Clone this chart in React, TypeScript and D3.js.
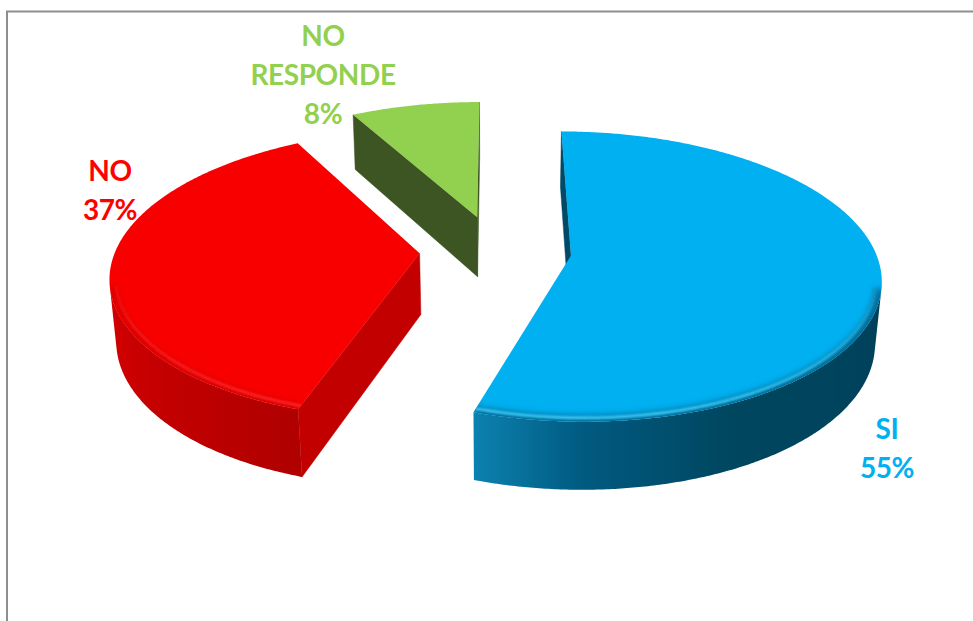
import React from "react";
import * as d3 from "d3";

// ---- data ----
const categories = ["SI", "NO", "NO RESPONDE"];
const values = [55, 37, 8];
const labelLines = [["SI"], ["NO"], ["NO", "RESPONDE"]];

// ---- styles ----
const topColors = ["#00B0F0", "#F80000", "#92D050"];
const labelColors = ["#00B0F0", "#FF0000", "#92D050"];
const radialColors = ["#004A68", "#C30000", "#3C5522"];
const edgeDark = ["#00628C", "#DA0000", "#5A8A30"];
const highlightColors = ["#48D6FF", "#FF3030", "#B8E880"];
const wallScales = [
  d3.scaleLinear<string>().domain([0, 90, 155, 180, 198]).range(["#003A52", "#003F58", "#00465F", "#005A80", "#0C82B0"]).clamp(true),
  d3.scaleLinear<string>().domain([198, 215, 250, 290]).range(["#B00000", "#BC0000", "#D20000", "#E40000"]).clamp(true),
  d3.scaleLinear<string>().domain([0, 360]).range(["#3C5522", "#3C5522"]),
];

// ---- layout ----
const W = 973;
const HGT = 621;
const R = 304;
const DEPTH = 70;
const PHI = Math.asin(0.462);
const CAM = 1870;
const EXPLODE = 76;
const CX = 495.5;
const CY = 250;
const FONT_SIZE = 28;
const LINE_GAP = 39;
// label anchor: [center x, baseline of last line]
const labelAnchors: [number, number][] = [
  [887, 478],
  [110, 220],
  [323, 124],
];

const sinP = Math.sin(PHI);
const cosP = Math.cos(PHI);
const cam = [0, CAM * sinP, CAM * cosP];

function project(X: number, Y: number, Z: number): [number, number] {
  const up = Y * cosP - Z * sinP;
  const d = Z * cosP + Y * sinP;
  const s = CAM / (CAM - d);
  return [CX + X * s, CY - up * s];
}

type Slice = { i: number; a0: number; a1: number; ox: number; oz: number };

function world(s: Slice, th: number, r: number, y: number): [number, number, number] {
  return [s.ox + r * Math.sin(th), y, s.oz - r * Math.cos(th)];
}
function P(s: Slice, th: number, r: number, y: number) {
  const w = world(s, th, r, y);
  return project(w[0], w[1], w[2]);
}
function visible(n: number[], p: number[]) {
  return n[0] * (cam[0] - p[0]) + n[1] * (cam[1] - p[1]) + n[2] * (cam[2] - p[2]) > 0;
}
const line = d3.line();
const deg = (r: number) => (r * 180) / Math.PI;

export default function App() {
  const arcs = d3.pie<number>().sort(null).value((d) => d)(values);
  const slices: Slice[] = arcs
    .map((a, i) => {
      const mid = (a.startAngle + a.endAngle) / 2;
      return { i, a0: a.startAngle, a1: a.endAngle, ox: EXPLODE * Math.sin(mid), oz: -EXPLODE * Math.cos(mid) };
    })
    .sort((p, q) => p.oz - q.oz);

  const STEP = Math.PI / 360;

  const built = slices.map((s) => {
    const n = Math.max(2, Math.ceil((s.a1 - s.a0) / STEP));
    const ths = d3.range(n + 1).map((k) => s.a0 + ((s.a1 - s.a0) * k) / n);
    const visSeg: number[] = [];
    for (let k = 0; k < n; k++) {
      const tm = (ths[k] + ths[k + 1]) / 2;
      const nrm = [Math.sin(tm), 0, -Math.cos(tm)];
      if (visible(nrm, world(s, tm, R, -DEPTH / 2))) visSeg.push(k);
    }
    let stops: { off: number; c: string }[] = [];
    let x0 = 0,
      x1 = 1;
    if (visSeg.length) {
      const samples = visSeg.map((k) => {
        const tm = (ths[k] + ths[k + 1]) / 2;
        return { x: P(s, tm, R, 0)[0], c: wallScales[s.i](deg(tm)) };
      });
      x0 = d3.min(samples, (d) => d.x)!;
      x1 = d3.max(samples, (d) => d.x)!;
      stops = samples
        .map((d) => ({ off: (d.x - x0) / Math.max(1, x1 - x0), c: d.c }))
        .sort((a, b) => a.off - b.off)
        .filter((_, j, arr) => j % 4 === 0 || j === arr.length - 1);
    }
    return { s, n, ths, visSeg, stops, x0, x1 };
  });

  return (
    <svg
      width={W}
      height={HGT}
      style={{ position: "absolute", left: 0, top: 0, background: "#fff" }}
      xmlns="http://www.w3.org/2000/svg"
    >
      <defs>
        <filter id="blur3" x="-20%" y="-20%" width="140%" height="140%">
          <feGaussianBlur stdDeviation="3" />
        </filter>
        <filter id="blur1" x="-20%" y="-20%" width="140%" height="140%">
          <feGaussianBlur stdDeviation="1.2" />
        </filter>
        {built.map(({ s, ths, stops, x0, x1 }) => {
          const pts: [number, number][] = [project(s.ox, 0, s.oz), ...ths.map((t) => P(s, t, R, 0))];
          return (
            <React.Fragment key={s.i}>
              <clipPath id={`top${s.i}`}>
                <path d={line(pts)! + "Z"} />
              </clipPath>
              <linearGradient id={`wall${s.i}`} gradientUnits="userSpaceOnUse" x1={x0} x2={x1} y1={0} y2={0}>
                {stops.map((st, j) => (
                  <stop key={j} offset={st.off} stopColor={st.c} />
                ))}
              </linearGradient>
            </React.Fragment>
          );
        })}
      </defs>
      <rect x={7} y={11.5} width={W + 20} height={HGT + 20} fill="none" stroke="#8E8E8E" strokeWidth={2} />
      {built.map(({ s, ths, visSeg }) => {
        const i = s.i;
        const apexT = project(s.ox, 0, s.oz);
        const apexB = project(s.ox, -DEPTH, s.oz);
        const faces: JSX.Element[] = [];
        const radial = [
          { th: s.a0, nrm: [-Math.cos(s.a0), 0, -Math.sin(s.a0)] },
          { th: s.a1, nrm: [Math.cos(s.a1), 0, Math.sin(s.a1)] },
        ];
        radial.forEach((rf, k) => {
          if (visible(rf.nrm, world(s, rf.th, R / 2, -DEPTH / 2))) {
            const q = [apexT, P(s, rf.th, R, 0), P(s, rf.th, R, -DEPTH), apexB] as [number, number][];
            faces.push(
              <path key={`r${k}`} d={line(q)! + "Z"} fill={radialColors[i]} stroke={radialColors[i]} strokeWidth={0.5} />
            );
          }
        });
        if (visSeg.length) {
          const kFirst = visSeg[0];
          const kLast = visSeg[visSeg.length - 1] + 1;
          const run = ths.slice(kFirst, kLast + 1);
          const q: [number, number][] = [
            ...run.map((t) => P(s, t, R, 0)),
            ...run
              .slice()
              .reverse()
              .map((t) => P(s, t, R, -DEPTH)),
          ];
          faces.push(<path key="wall" d={line(q)! + "Z"} fill={`url(#wall${i})`} />);
        }
        const topPts: [number, number][] = [apexT, ...ths.map((t) => P(s, t, R, 0))];
        return (
          <g key={i}>
            {faces}
            <path d={line(topPts)! + "Z"} fill={topColors[i]} />
            <g clipPath={`url(#top${i})`}>
              <g filter="url(#blur3)" opacity={0.85}>
                {visSeg.length > 0 && (
                  <path
                    d={line(ths.slice(visSeg[0], visSeg[visSeg.length - 1] + 2).map((t) => P(s, t, R, 0)))!}
                    stroke={edgeDark[i]}
                    strokeWidth={12}
                    fill="none"
                  />
                )}
              </g>
              <g filter="url(#blur1)">
                {visSeg.map((k) => {
                  const tm = (ths[k] + ths[k + 1]) / 2;
                  const f = Math.pow(Math.max(0, -Math.cos(tm)), 0.7);
                  if (f <= 0.02) return null;
                  const c = d3.interpolateRgb(edgeDark[i], highlightColors[i])(f);
                  return (
                    <path
                      key={k}
                      d={line([P(s, ths[k], R - 6, 0), P(s, ths[k + 1], R - 6, 0)])!}
                      stroke={c}
                      strokeWidth={2.5}
                      fill="none"
                    />
                  );
                })}
              </g>
            </g>
          </g>
        );
      })}
      {categories.map((cat, i) => {
        const lines = [...labelLines[i], `${values[i]}%`];
        const [x, yLast] = labelAnchors[i];
        return (
          <text
            key={cat}
            x={x}
            textAnchor="middle"
            fill={labelColors[i]}
            fontFamily="Lato, 'Open Sans', sans-serif"
            fontWeight={700}
            fontSize={FONT_SIZE}
            letterSpacing={-0.4}
          >
            {lines.map((t, k) => (
              <tspan key={k} x={x} y={yLast - (lines.length - 1 - k) * LINE_GAP}>
                {t}
              </tspan>
            ))}
          </text>
        );
      })}
    </svg>
  );
}
